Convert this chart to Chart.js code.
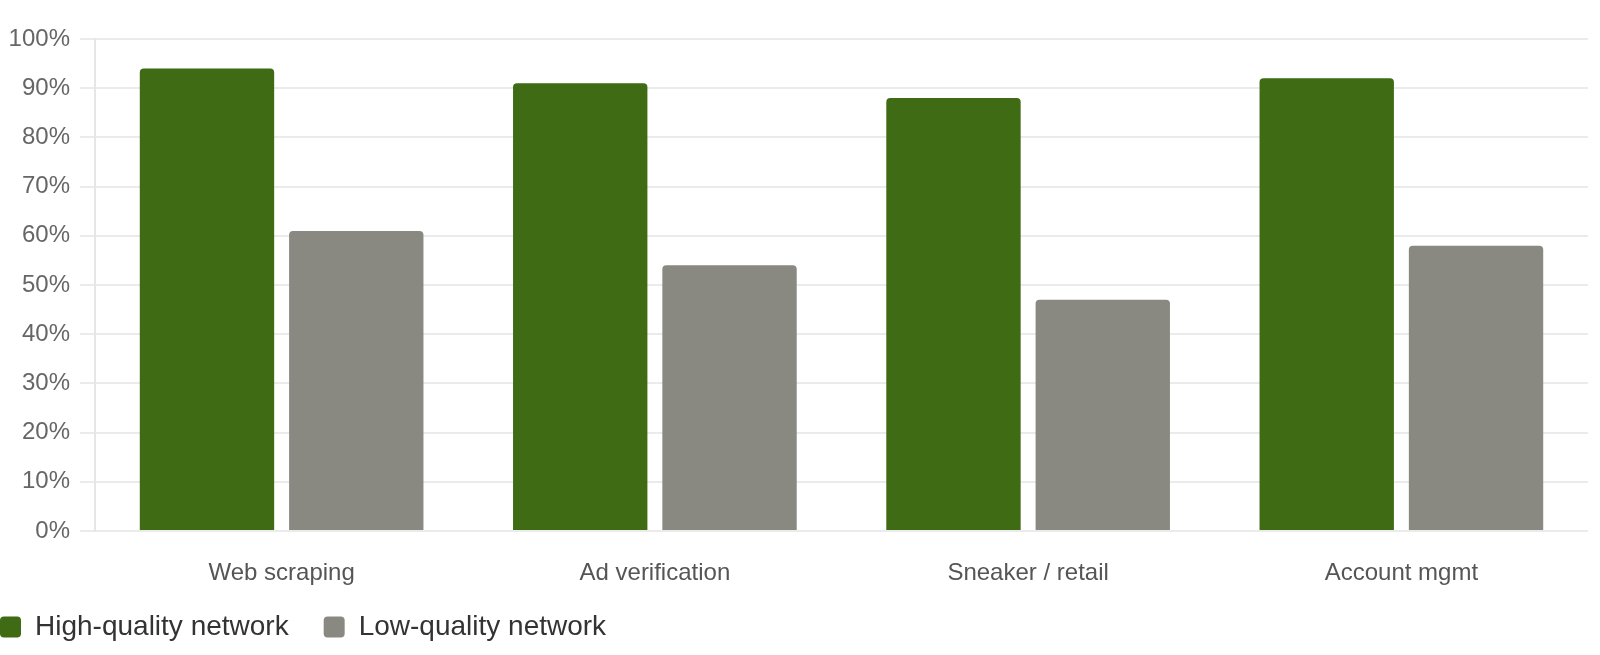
<!DOCTYPE html>
<html>
<head>
<meta charset="utf-8">
<script src="https://cdn.jsdelivr.net/npm/chart.js@4"></script>
<style>
html,body{margin:0;padding:0;background:#fff;overflow:hidden;}
#wrap{position:absolute;left:-35px;top:0;width:1635px;height:655px;}
</style>
</head>
<body>
<div id="wrap"><canvas id="qualityChart"></canvas></div>
<script>
// categories and values
const categories = ["Web scraping", "Ad verification", "Sneaker / retail", "Account mgmt"];
const highQuality = [94, 91, 88, 92];
const lowQuality = [61, 54, 47, 58];
const yTicks = [0, 10, 20, 30, 40, 50, 60, 70, 80, 90, 100];

Chart.defaults.font.family = "'Liberation Sans', Arial, sans-serif";

const qualityChart = new Chart(
document.getElementById("qualityChart"),
{
type:"bar",

data:{
labels:categories,
datasets:[
{
label:"High-quality network",
data:highQuality,
backgroundColor:"#3e6b13",
borderRadius:4
},
{
label:"Low-quality network",
data:lowQuality,
backgroundColor:"#898982",
borderRadius:4
}
]
},

options:{
responsive:true,
maintainAspectRatio:false,
animation:false,
layout:{
padding:{top:39,right:12,left:0,bottom:4}
},
plugins:{
tooltip:{enabled:false},
legend:{
position:"bottom",
align:"start",
labels:{
color:"#333",
font:{size:28},
boxWidth:21,
boxHeight:21,
padding:35,
useBorderRadius:true,
borderRadius:4
}
}
},
scales:{
x:{
afterFit:function(scale){
scale.height = 47;
// let the category labels hang a little below the short axis box
scale._computeLabelArea = function(){ return undefined; };
},
grid:{display:false},
border:{display:false},
ticks:{color:"#555",font:{size:24},padding:20}
},
y:{
min:0,
max:100,
afterBuildTicks:function(scale){
scale.ticks = yTicks.map(v => ({value:v}));
},
afterFit:function(scale){
scale.width = 130;
},
grid:{color:"#ebebeb",lineWidth:2,tickLength:15},
border:{display:true,color:"#e6e6e6",width:2},
ticks:{
color:"#666",
font:{size:24},
padding:10,
callback:function(v){ return v + "%"; }
}
}
}
}
}
);
</script>
</body>
</html>
